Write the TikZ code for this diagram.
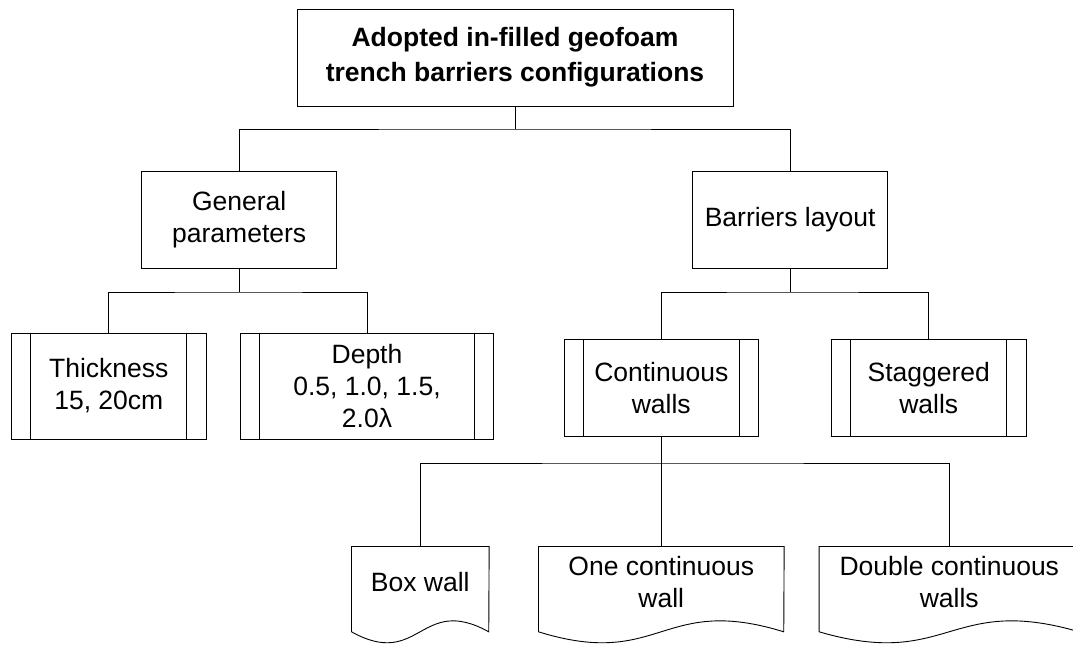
\documentclass[tikz,border=0pt]{standalone}
\usepackage{fontspec}
\setmainfont{Liberation Sans}
\usetikzlibrary{calc}
\tikzset{
  mybox/.style={draw=black, line width=0.9pt, rectangle, inner sep=0pt, align=center,
    font=\fontsize{26.5}{32}\selectfont},
  sidebox/.style={mybox},
  docbox/.style={rectangle, inner sep=0pt, align=center, minimum height=70.6pt,
    font=\fontsize{26.5}{32}\selectfont},
  conn/.style={draw=black, line width=0.9pt},
}
\begin{document}
\begin{tikzpicture}[x=1pt,y=-1pt]
\useasboundingbox (0,0) rectangle (1073,645);
\clip (0,0) rectangle (1073,645);
\fill[white] (0,0) rectangle (1073,645);

\node[mybox, minimum width=436pt, minimum height=97pt,
      font=\bfseries\fontsize{26.5}{35}\selectfont] (top) at (515,57.5)
  {Adopted in-filled geofoam\\trench barriers configurations};

\node[mybox, minimum width=195pt, minimum height=97pt] (gp) at (239.2,219.5) {General\\parameters};
\node[mybox, minimum width=195pt, minimum height=97pt] (bl) at (790.2,219.5) {Barriers layout};

\node[sidebox, minimum width=194.3pt, minimum height=106pt] (thick) at (108.8,386) {Thickness\\15, 20cm};
\node[sidebox, minimum width=252.6pt, minimum height=106pt] (depth) at (367,386) {Depth\\0.5, 1.0, 1.5,\\2.0λ};
\node[sidebox, minimum width=194.7pt, minimum height=97pt] (cont) at (661.3,387.8) {Continuous\\walls};
\node[sidebox, minimum width=194.3pt, minimum height=97pt] (stag) at (928.8,387.8) {Staggered\\walls};

\foreach \n in {thick,depth,cont,stag}{
  \draw[conn] ([xshift=19.5pt]\n.north west) -- ([xshift=19.5pt]\n.south west);
  \draw[conn] ([xshift=-19.5pt]\n.north east) -- ([xshift=-19.5pt]\n.south east);
}

\node[docbox, minimum width=137.3pt] (bw) at (420.3,582) {Box wall};
\node[docbox, minimum width=245.3pt] (one) at (661.3,582) {One continuous\\wall};
\node[docbox, minimum width=260pt] (dbl) at (949.3,582) {Double continuous\\walls};

\foreach \n/\w in {bw/137.3, one/245.3, dbl/260}{
  \draw[conn] (\n.north west) -- ++(0,85.3)
    .. controls +(\w/2,38) and +(-\w/2,-38) .. ++(\w,0)
    -- (\n.north east) -- cycle;
}

% connectors
\draw[conn] (top.south) -- (top.south |- 0,129) coordinate (b1);
\draw[conn] (gp.north) |- (b1) -| (bl.north);

\draw[conn] (gp.south) -- (gp.south |- 0,292) coordinate (b2);
\draw[conn] (thick.north) |- (b2) -| (depth.north);

\draw[conn] (bl.south) -- (bl.south |- 0,292) coordinate (b3);
\draw[conn] (cont.north) |- (b3) -| (stag.north);

\draw[conn] (cont.south) -- (cont.south |- 0,463) coordinate (b4);
\draw[conn] (bw.north) |- (b4) -| (dbl.north);
\draw[conn] (b4) -- (one.north);
\end{tikzpicture}
\end{document}
